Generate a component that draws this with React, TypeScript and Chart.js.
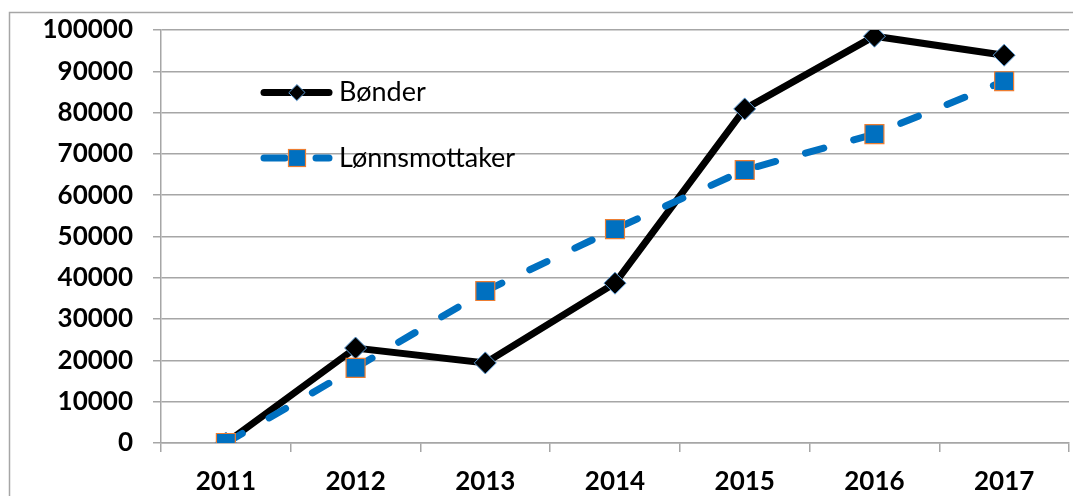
import React, { useEffect, useRef } from "react";
import { Chart, registerables } from "chart.js";

Chart.register(...registerables);

const categories = ["2011", "2012", "2013", "2014", "2015", "2016", "2017"];
const bonderValues = [0, 23000, 19400, 38700, 80900, 98500, 93900];
const lonnValues = [0, 18200, 36800, 51800, 66100, 74800, 87600];
const seriesNames = ["Bønder", "Lønnsmottaker"];
const yMin = 0;
const yMax = 100000;
const yStep = 10000;

const GRID = "#a6a6a6";
const BLUE = "#0070c0";
const ORANGE = "#ed7d31";
const LIGHTBLUE = "#5b9bd5";
const FONT = "Lato";

const framePlugin = {
  id: "frame",
  beforeDraw(chart: any) {
    const ctx = chart.ctx;
    ctx.save();
    ctx.fillStyle = "#ffffff";
    ctx.fillRect(0, 0, chart.width, chart.height);
    ctx.strokeStyle = GRID;
    ctx.lineWidth = 1.5;
    ctx.strokeRect(9.5, 12.5, chart.width + 20, chart.height + 20);
    ctx.restore();
  },
};

const legendPlugin = {
  id: "customLegend",
  afterDraw(chart: any) {
    const ctx = chart.ctx;
    ctx.save();
    const x0 = 261;
    const x1 = 332;
    const mx = 297;
    // Bønder
    let y = 92.5;
    ctx.strokeStyle = "#000";
    ctx.lineWidth = 7;
    ctx.lineCap = "round";
    ctx.beginPath();
    ctx.moveTo(x0 + 3, y);
    ctx.lineTo(x1 - 3, y);
    ctx.stroke();
    const r = 8;
    ctx.beginPath();
    ctx.moveTo(mx - r, y);
    ctx.lineTo(mx, y - r);
    ctx.lineTo(mx + r, y);
    ctx.lineTo(mx, y + r);
    ctx.closePath();
    ctx.fillStyle = "#000";
    ctx.fill();
    ctx.lineWidth = 1;
    ctx.strokeStyle = LIGHTBLUE;
    ctx.stroke();
    ctx.fillStyle = "#000";
    ctx.font = `400 27px ${FONT}`;
    ctx.textBaseline = "middle";
    ctx.textAlign = "left";
    ctx.fillText(seriesNames[0], 339, y);
    // Lønnsmottaker
    y = 158;
    ctx.strokeStyle = BLUE;
    ctx.lineWidth = 7;
    ctx.beginPath();
    ctx.moveTo(x0 + 3, y);
    ctx.lineTo(285, y);
    ctx.moveTo(316, y);
    ctx.lineTo(x1 - 3, y);
    ctx.stroke();
    ctx.fillStyle = BLUE;
    ctx.fillRect(mx - 8.5, y - 8.5, 17, 17);
    ctx.lineWidth = 1.2;
    ctx.strokeStyle = ORANGE;
    ctx.strokeRect(mx - 8.5, y - 8.5, 17, 17);
    ctx.fillStyle = "#000";
    ctx.fillText(seriesNames[1], 339, y);
    ctx.restore();
  },
};

export default function App() {
  const ref = useRef<HTMLCanvasElement>(null);
  useEffect(() => {
    document.body.style.margin = "0";
    const chart = new Chart(ref.current as HTMLCanvasElement, {
      type: "line",
      data: {
        labels: categories,
        datasets: [
          {
            label: seriesNames[0],
            data: bonderValues,
            borderColor: "#000",
            borderWidth: 7,
            backgroundColor: "#000",
            pointStyle: "rectRot",
            pointRadius: 11,
            pointBackgroundColor: "#000",
            pointBorderColor: LIGHTBLUE,
            pointBorderWidth: 1,
            tension: 0,
            order: 1,
          },
          {
            label: seriesNames[1],
            data: lonnValues,
            borderColor: BLUE,
            borderWidth: 7,
            borderDash: [19, 31],
            borderCapStyle: "round",
            backgroundColor: BLUE,
            pointStyle: "rect",
            pointRadius: 13.4,
            pointBackgroundColor: BLUE,
            pointBorderColor: ORANGE,
            pointBorderWidth: 1.2,
            tension: 0,
            order: 0,
          },
        ],
      },
      options: {
        responsive: false,
        devicePixelRatio: 1,
        animation: false,
        layout: { autoPadding: false, padding: { left: 0, right: 4, top: 30, bottom: 0 } },
        plugins: {
          legend: { display: false },
          tooltip: { enabled: false },
        },
        scales: {
          x: {
            type: "category",
            offset: true,
            grid: {
              offset: true,
              drawOnChartArea: false,
              drawTicks: true,
              tickLength: 9,
              color: GRID,
              lineWidth: 1.5,
            },
            border: { color: GRID, width: 1.5 },
            ticks: {
              color: "#000",
              font: { family: FONT, weight: "bold", size: 26 },
              padding: 14,
            },
            afterFit(scale: any) {
              scale.height = 53;
              scale.paddingLeft = 0;
              scale.paddingRight = 0;
            },
          },
          y: {
            min: yMin,
            max: yMax,
            ticks: {
              stepSize: yStep,
              color: "#000",
              font: { family: FONT, weight: "bold", size: 26 },
              padding: 20,
              callback: (v: any) => String(v),
            },
            grid: { color: GRID, lineWidth: 1.5, tickLength: 8 },
            border: { color: GRID, width: 1.5 },
            afterFit(scale: any) {
              scale.width = 161;
              scale.paddingTop = 0;
              scale.paddingBottom = 0;
            },
          },
        },
      },
      plugins: [framePlugin, legendPlugin],
    });
    return () => chart.destroy();
  }, []);
  return (
    <div style={{ position: "absolute", left: 0, top: 0, width: 1073, height: 496 }}>
      <canvas ref={ref} width={1073} height={496} />
    </div>
  );
}
